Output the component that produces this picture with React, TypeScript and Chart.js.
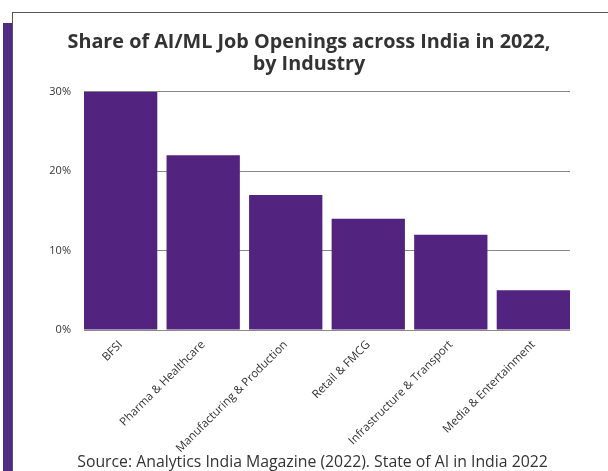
import React, { useEffect, useRef } from "react";
import { Chart, registerables } from "chart.js";

Chart.register(...registerables);

const categories: string[] = [
  "BFSI",
  "Pharma & Healthcare",
  "Manufacturing & Production",
  "Retail & FMCG",
  "Infrastructure & Transport",
  "Media & Entertainment",
];
const shares: number[] = [30, 22, 17, 14, 12, 5];
const yTicks: number[] = [0, 10, 20, 30];
const titleLines: string[] = ["Share of AI/ML Job Openings across India in 2022,", "by Industry"];
const sourceText = "Source: Analytics India Magazine (2022). State of AI in India 2022";

const FONT = "'Open Sans', 'Noto Sans', sans-serif";
const BAR_FRACTION = 0.888;

export default function App() {
  const ref = useRef<HTMLCanvasElement | null>(null);

  useEffect(() => {
    if (!ref.current) return;
    const half = BAR_FRACTION / 2;
    const chart = new Chart(ref.current, {
      type: "bar",
      data: {
        datasets: [
          {
            data: shares.map((v, i) => ({ x: i, y: v })),
            backgroundColor: "#52237f",
            borderWidth: 0,
            barPercentage: BAR_FRACTION,
            categoryPercentage: 1,
          },
        ],
      },
      options: {
        animation: false,
        responsive: false,
        maintainAspectRatio: false,
        layout: { padding: { left: 35, right: 38, top: 0, bottom: 0 } },
        plugins: {
          legend: { display: false },
          tooltip: { enabled: false },
          title: {
            display: true,
            text: titleLines,
            color: "#333333",
            font: { family: FONT, size: 19.8, weight: "bold", lineHeight: 1.08 },
            padding: { top: 19, bottom: 17 },
          },
        },
        scales: {
          x: {
            type: "linear",
            min: -half,
            max: categories.length - 1 + half,
            bounds: "data",
            offset: false,
            afterBuildTicks: (scale: any) => {
              scale.ticks = categories.map((_, i) => ({ value: i }));
            },
            grid: { display: false },
            border: { display: false },
            ticks: {
              color: "#333333",
              font: { family: FONT, size: 11.5 },
              maxRotation: 45,
              minRotation: 45,
              autoSkip: false,
              padding: 0,
              callback: (v: any) => categories[Math.round(v)] ?? "",
            },
            afterFit: (scale: any) => {
              scale.height = 141;
            },
          },
          y: {
            min: 0,
            max: 30,
            afterBuildTicks: (scale: any) => {
              scale.ticks = yTicks.map((v) => ({ value: v }));
            },
            grid: { color: "#888888", drawTicks: false, lineWidth: 1 },
            border: { display: false },
            ticks: {
              color: "#333333",
              font: { family: FONT, size: 11 },
              padding: 13,
              callback: (v: any) => v + "%",
            },
            afterFit: (scale: any) => {
              scale.width = 36;
            },
          },
        },
      },
    });
    return () => chart.destroy();
  }, []);

  return (
    <div
      style={{
        position: "fixed",
        left: 0,
        top: 0,
        width: 608,
        height: 471,
        overflow: "hidden",
        background: "#ffffff",
      }}
    >
      <div
        style={{
          position: "absolute",
          left: 3,
          top: 23,
          width: 9,
          height: 460,
          background: "#4e2d82",
        }}
      />
      <div
        style={{
          position: "absolute",
          left: 12,
          top: 12,
          width: 620,
          height: 480,
          borderTop: "1px solid #555555",
          borderLeft: "1px solid #555555",
          background: "#ffffff",
          boxSizing: "border-box",
        }}
      />
      <canvas
        ref={ref}
        width={595}
        height={458}
        style={{ position: "absolute", left: 13, top: 13, width: 595, height: 458 }}
      />
      <div
        style={{
          position: "absolute",
          left: 15,
          width: 595,
          top: 451,
          textAlign: "center",
          fontFamily: FONT,
          fontSize: 15.8,
          color: "#333333",
          lineHeight: "20px",
          whiteSpace: "nowrap",
        }}
      >
        {sourceText}
      </div>
    </div>
  );
}
